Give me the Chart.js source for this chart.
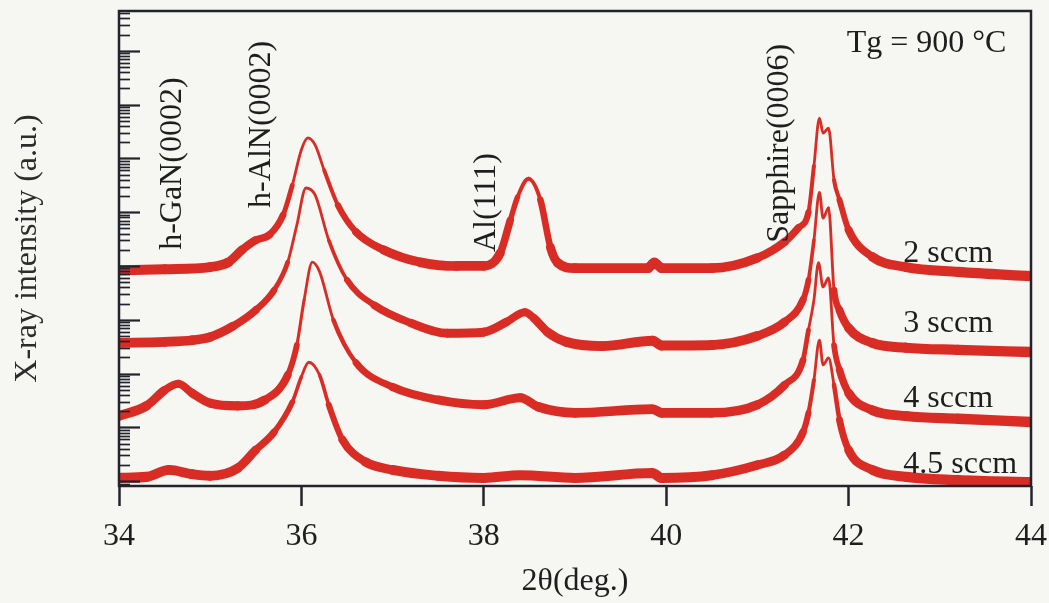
<!DOCTYPE html>
<html>
<head>
<meta charset="utf-8">
<script src="https://cdn.jsdelivr.net/npm/chart.js@4.4.1/dist/chart.umd.min.js"></script>
<style>
  html, body { margin: 0; padding: 0; background: #f6f6f2; }
  #wrap { width: 1049px; height: 603px; position: relative; }
</style>
</head>
<body>
<div id="wrap"><canvas id="xrd" width="1049" height="603"></canvas></div>
<script>
// XRD 2θ scans, Tg = 900 °C. Intensities are stored as log10 (a.u.);
// curves are already stacked by flow rate on the log axis.
const seriesNames = ['2 sccm', '3 sccm', '4 sccm', '4.5 sccm'];

const theta_2 = [34.0,34.5,35.0,35.2,35.35,35.5,35.65,35.8,35.9,36.0,36.07,36.15,36.25,36.4,36.6,36.9,37.3,37.7,38.0,38.18,38.29,38.37,38.49,38.62,38.73,38.81,39.0,39.5,39.8,39.87,39.95,40.5,41.0,41.3,41.45,41.56,41.62,41.68,41.72,41.78,41.84,41.9,42.0,42.26,42.63,43.2,44.0];
const logI_2 = [2.92,2.94,2.98,3.07,3.30,3.48,3.58,3.95,4.50,5.16,5.38,5.25,4.78,4.13,3.63,3.30,3.07,3.00,3.00,3.24,3.85,4.28,4.62,4.23,3.35,3.06,2.96,2.96,2.96,3.07,2.96,2.96,3.15,3.45,3.71,4.00,4.86,5.75,5.47,5.56,4.60,4.23,3.67,3.17,2.98,2.89,2.81];

const theta_3 = [34.0,34.5,34.8,35.0,35.25,35.5,35.7,35.85,35.95,36.05,36.15,36.3,36.5,36.8,37.2,37.6,38.0,38.25,38.45,38.55,38.7,38.9,39.3,39.85,39.95,40.5,41.0,41.3,41.5,41.56,41.62,41.68,41.72,41.78,41.84,41.9,42.0,42.26,42.63,43.2,44.0];
const logI_3 = [1.57,1.59,1.62,1.68,1.88,2.18,2.55,3.07,3.76,4.45,4.32,3.48,2.74,2.27,1.94,1.75,1.77,1.96,2.14,2.03,1.77,1.59,1.51,1.61,1.52,1.53,1.70,1.96,2.37,2.74,3.48,4.37,3.89,4.08,2.55,2.18,1.85,1.57,1.48,1.44,1.40];

const theta_4 = [34.0,34.3,34.5,34.65,34.8,35.0,35.3,35.6,35.85,35.95,36.03,36.12,36.2,36.35,36.6,37.0,37.5,38.0,38.4,38.6,39.0,39.85,39.95,40.5,41.0,41.3,41.5,41.56,41.62,41.67,41.72,41.78,41.84,41.9,42.0,42.26,42.63,43.2,44.0];
const logI_4 = [0.21,0.40,0.69,0.81,0.64,0.45,0.40,0.51,0.97,1.53,2.37,3.07,2.89,2.00,1.20,0.75,0.51,0.42,0.55,0.38,0.27,0.34,0.27,0.27,0.42,0.79,1.25,1.81,2.37,3.06,2.61,2.78,1.53,1.07,0.64,0.32,0.21,0.16,0.10];

const theta_45 = [34.0,34.3,34.55,34.8,35.0,35.3,35.5,35.7,35.9,36.0,36.08,36.2,36.3,36.45,36.7,37.0,37.5,38.0,38.4,39.0,39.85,39.95,40.5,41.0,41.3,41.5,41.56,41.62,41.68,41.72,41.78,41.84,41.9,42.0,42.26,42.63,43.2,44.0];
const logI_45 = [-0.94,-0.92,-0.79,-0.87,-0.90,-0.76,-0.42,-0.09,0.47,0.94,1.21,0.97,0.42,-0.23,-0.64,-0.79,-0.90,-0.94,-0.89,-0.94,-0.85,-0.94,-0.89,-0.70,-0.51,-0.09,0.27,0.88,1.62,1.16,1.29,0.79,0.14,-0.42,-0.79,-0.92,-0.98,-1.02];

const xTickValues = [34, 36, 38, 40, 42, 44];
const peakNames = ['h-GaN(0002)', 'h-AlN(0002)', 'Al(111)', 'Sapphire(0006)'];
const conditionText = 'Tg = 900 °C';

// axis range (log10 units)
const yLogMin = -1.09, yLogMax = 7.74;

const RED = '#d92c25';
const INK = '#23232d';
const TEXT = '#1e1e1e';
const FONT = "'Liberation Serif', 'Times New Roman', serif";

const thetas = [theta_2, theta_3, theta_4, theta_45];
const logs = [logI_2, logI_3, logI_4, logI_45];

const datasets = seriesNames.map((name, i) => {
  const base = Math.min(...logs[i]);
  return {
    label: name,
    data: thetas[i].map((t, j) => ({ x: t, y: Math.pow(10, logs[i][j]) })),
    borderColor: RED,
    borderWidth: 10,
    borderCapStyle: 'round',
    borderJoinStyle: 'round',
    pointRadius: 0,
    fill: false,
    cubicInterpolationMode: 'monotone',
    segment: {
      // counting noise makes the trace a thick band near background, thin at the peaks
      borderWidth: ctx => {
        const h = (Math.log10(ctx.p0.parsed.y) + Math.log10(ctx.p1.parsed.y)) / 2 - base;
        return Math.max(2.8, Math.min(10.5, 10.5 - 4 * h));
      }
    }
  };
});

// where the texts sit, in data coordinates (2θ, log10 I)
const peakLabelAnchors = [[34.59, 3.30], [35.56, 4.08], [38.03, 3.26], [41.24, 3.43]];
const seriesLabelAnchors = [[42.6, 3.07], [42.6, 1.77], [42.6, 0.38], [42.6, -0.85]];
const conditionAnchor = [43.73, 6.98];

const framePlugin = {
  id: 'frameAndTicks',
  afterDatasetsDraw(chart) {
    const { ctx, chartArea: a, scales: { y } } = chart;
    ctx.save();
    // inward log ticks on the intensity axis
    ctx.strokeStyle = INK;
    y.ticks.forEach(t => {
      const py = Math.round(y.getPixelForValue(t.value)) + 0.5;
      ctx.lineWidth = t.major ? 2.2 : 1.7;
      ctx.beginPath();
      ctx.moveTo(a.left, py);
      ctx.lineTo(a.left + (t.major ? 21 : 11), py);
      ctx.stroke();
    });
    ctx.lineWidth = 2.5;
    ctx.strokeRect(a.left, a.top, a.right - a.left, a.bottom - a.top);
    ctx.restore();
  },
  afterDraw(chart) {
    const { ctx, scales: { x, y } } = chart;
    ctx.save();
    ctx.fillStyle = TEXT;
    ctx.font = '32px ' + FONT;
    peakNames.forEach((txt, i) => {
      const [t, l] = peakLabelAnchors[i];
      ctx.save();
      ctx.translate(x.getPixelForValue(t), y.getPixelForValue(Math.pow(10, l)));
      ctx.rotate(-Math.PI / 2);
      ctx.textAlign = 'left';
      ctx.textBaseline = 'middle';
      ctx.fillText(txt, 0, 0);
      ctx.restore();
    });
    ctx.textBaseline = 'alphabetic';
    ctx.textAlign = 'left';
    seriesNames.forEach((txt, i) => {
      const [t, l] = seriesLabelAnchors[i];
      ctx.fillText(txt, x.getPixelForValue(t), y.getPixelForValue(Math.pow(10, l)));
    });
    ctx.textAlign = 'right';
    ctx.fillText(conditionText, x.getPixelForValue(conditionAnchor[0]), y.getPixelForValue(Math.pow(10, conditionAnchor[1])));
    ctx.restore();
  }
};

new Chart(document.getElementById('xrd'), {
  type: 'line',
  data: { datasets },
  options: {
    responsive: false,
    devicePixelRatio: 1,
    animation: false,
    layout: { padding: { left: 0, top: 11, right: 18, bottom: 0 } },
    plugins: { legend: { display: false }, tooltip: { enabled: false } },
    scales: {
      x: {
        type: 'linear',
        min: 34, max: 44,
        afterBuildTicks: s => { s.ticks = xTickValues.map(v => ({ value: v })); },
        ticks: { font: { family: FONT, size: 32 }, color: TEXT, padding: 11, maxRotation: 0, autoSkip: false },
        grid: { drawOnChartArea: false, drawTicks: true, tickLength: 20, tickWidth: 2.5, tickColor: INK },
        border: { display: false },
        title: { display: true, text: '2θ(deg.)', font: { family: FONT, size: 32 }, color: TEXT, padding: { top: 0, bottom: 2 } },
        afterFit: s => { s.height = 117; s.paddingLeft = 0; s.paddingRight = 0; }
      },
      y: {
        type: 'logarithmic',
        min: Math.pow(10, yLogMin),
        max: Math.pow(10, yLogMax),
        afterBuildTicks: s => {
          const out = [];
          for (let e = -2; e <= 8; e++) {
            for (let k = 1; k <= 9; k++) {
              const v = k * Math.pow(10, e);
              if (v >= s.min && v <= s.max) out.push({ value: v, major: k === 1 });
            }
          }
          s.ticks = out;
        },
        ticks: { display: false },
        grid: { display: false },
        border: { display: false },
        title: { display: true, text: 'X-ray intensity (a.u.)', font: { family: FONT, size: 32 }, color: '#2c2c2c', padding: { top: 8, bottom: 0 } },
        afterFit: s => { s.width = 119; s.paddingTop = 0; s.paddingBottom = 0; }
      }
    }
  },
  plugins: [framePlugin]
});
</script>
</body>
</html>
